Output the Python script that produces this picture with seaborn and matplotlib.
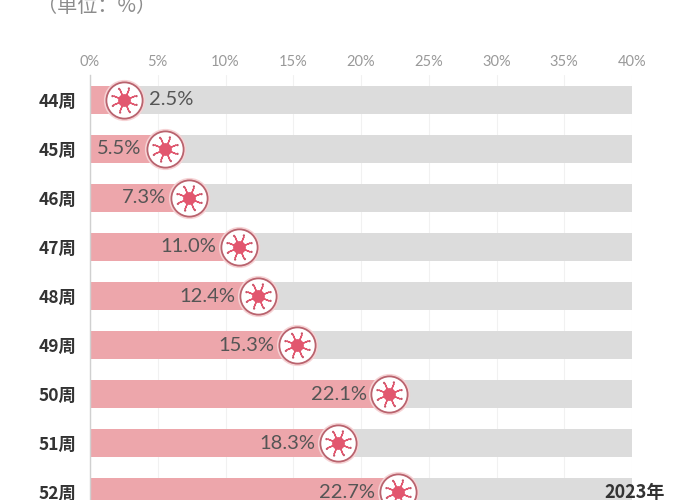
import numpy as np
import pandas as pd
import matplotlib
matplotlib.use('Agg')
import matplotlib.pyplot as plt
from matplotlib.path import Path
import seaborn as sns

weeks = ['44周', '45周', '46周', '47周', '48周', '49周', '50周', '51周', '52周']
rates = [2.5, 5.5, 7.3, 11.0, 12.4, 15.3, 22.1, 18.3, 22.7]
axis_max = 40
ticks = [0, 5, 10, 15, 20, 25, 30, 35, 40]
unit_label = '（单位：%）'
year_label = '2023年'

sns.set_theme(style='white')
plt.rcParams['font.family'] = ['Noto Sans CJK SC', 'DejaVu Sans']

df = pd.DataFrame({'week': weeks, 'rate': rates, 'full': [axis_max] * len(weeks)})

fig = plt.figure(figsize=(7, 5), dpi=100)
# axes runs off the bottom of the picture, the last bar is cut in the original
ax = fig.add_axes([90 / 700, 0, 542 / 700, 425 / 500])

for t in ticks:
    ax.axvline(t, color='#f1f1f1', lw=0.8, zorder=0)

sns.barplot(data=df, y='week', x='full', color='#dcdcdc', width=0.59, saturation=1,
            linewidth=0, ax=ax, zorder=1)
sns.barplot(data=df, y='week', x='rate', color='#eda6ab', width=0.59, saturation=1,
            linewidth=0, ax=ax, zorder=2)

ax.set_xlim(0, axis_max)
ax.set_ylim(8.163, -0.51)
ax.set_xlabel('')
ax.set_ylabel('')
ax.xaxis.tick_top()
ax.set_xticks(ticks)
ax.set_xticklabels([f'{t}%' for t in ticks], fontsize=10.5, color='#999999',
                   family=['Lato', 'Noto Sans CJK SC'])
ax.tick_params(axis='x', length=0, pad=4)
ax.tick_params(axis='y', length=0, pad=10)
for lab in ax.get_yticklabels():
    lab.set_fontsize(12.5)
    lab.set_fontweight('bold')
    lab.set_color('#333333')
for name in ['top', 'right', 'bottom']:
    ax.spines[name].set_visible(False)
ax.spines['left'].set_color('#d0d0d0')
ax.spines['left'].set_linewidth(1)


# small dots around the virus body, used as one marker
def dots_marker():
    verts = []
    codes = []
    for a in np.radians([20, 70, 115, 160, 205, 250, 295, 340]):
        circle = Path.circle((np.cos(a), np.sin(a)), 0.09)
        verts.extend(circle.vertices)
        codes.extend(circle.codes)
    return Path(verts, codes)


y_pos = np.arange(len(weeks))
ax.scatter(rates, y_pos, s=880, color='#f6d3d5', linewidths=0, zorder=3)
ax.scatter(rates, y_pos, s=680, facecolor='white', edgecolor='#b9636e', linewidths=1.3, zorder=4)
ax.scatter(rates, y_pos, s=270, marker=(8, 2, 22.5), color='#e2576f', linewidths=1.0, zorder=5)
ax.scatter(rates, y_pos, s=85, marker='o', color='#e2576f', linewidths=0, zorder=6)
ax.scatter(rates, y_pos, s=360, marker=dots_marker(), color='#c9566a', linewidths=0, zorder=5)

for i, val in enumerate(rates):
    if val < 3:
        off, ha = 18, 'left'
    else:
        off, ha = -16.5, 'right'
    ax.annotate(f'{val:.1f}%', (val, i), xytext=(off, 0), textcoords='offset points',
                ha=ha, va='center', fontsize=14.5, color='#555555', zorder=7,
                family=['Lato', 'Noto Sans CJK SC'])

fig.text(37 / 700, 1 - 7 / 500, unit_label, fontsize=14.5, color='#8c8c8c', ha='left', va='center')
fig.text(665 / 700, 1 - 492 / 500, year_label, fontsize=13, fontweight='bold', color='#333333',
         ha='right', va='center', zorder=10)

fig.savefig('out.png', dpi=100)
